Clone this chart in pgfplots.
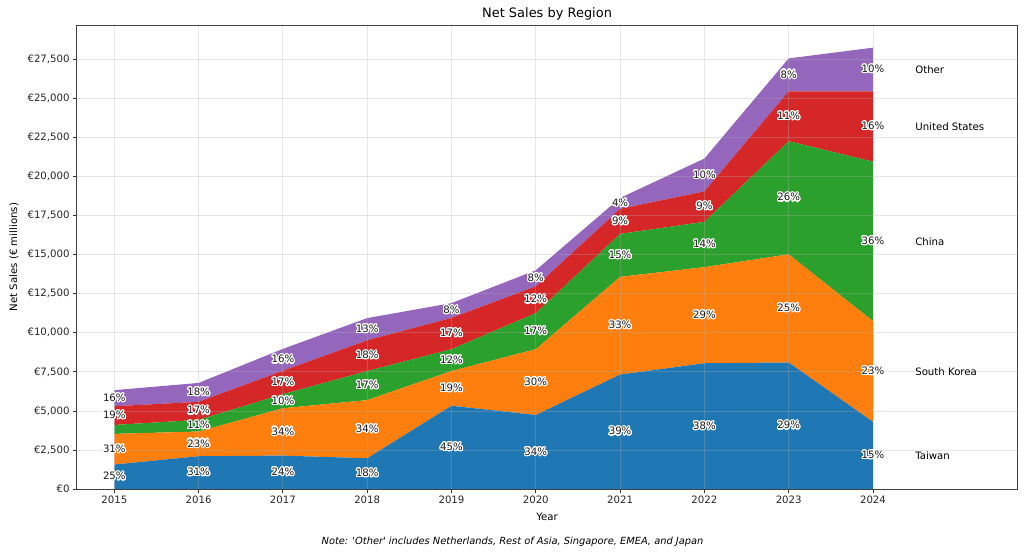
\documentclass[border=0pt]{standalone}
\usepackage{pgfplots}
\usepackage{pgfplotstable}
\pgfplotsset{compat=1.18}
\usepackage{fontspec}
\setmainfont{DejaVu Sans}[Ligatures=TeXOff]
\usepackage{contour}
\contourlength{1.1bp}
\contournumber{24}
\definecolor{tabblue}{HTML}{1F77B4}
\definecolor{taborange}{HTML}{FF7F0E}
\definecolor{tabgreen}{HTML}{2CA02C}
\definecolor{tabred}{HTML}{D62728}
\definecolor{tabpurple}{HTML}{9467BD}

\pgfplotstableread{
year taiwan korea china us other
2015 1570 1960 570 1200 1030
2016 2100 1580 750 1150 1210
2017 2140 3030 900 1500 1400
2018 1970 3720 1860 1970 1420
2019 5330 2220 1400 2000 950
2020 4740 4210 2310 1710 1030
2021 7330 6250 2750 1600 700
2022 8050 6150 2900 1950 2100
2023 8100 6920 7240 3190 2110
2024 4300 6450 10200 4500 2800
}\sales

\pgfplotstableread{
x y lab
2015 785 25
2015 2550 31
2015 4700 19
2015 5815 16
2016 1050 31
2016 2890 23
2016 4055 11
2016 5005 17
2016 6185 18
2017 1070 24
2017 3655 34
2017 5620 10
2017 6820 17
2017 8270 16
2018 985 18
2018 3830 34
2018 6620 17
2018 8535 18
2018 10230 13
2019 2665 45
2019 6440 19
2019 8250 12
2019 9950 17
2019 11425 8
2020 2370 34
2020 6845 30
2020 10105 17
2020 12115 12
2020 13485 8
2021 3665 39
2021 10455 33
2021 14955 15
2021 17130 9
2021 18280 4
2022 4025 38
2022 11125 29
2022 15650 14
2022 18075 9
2022 20100 10
2023 4050 29
2023 11560 25
2023 18640 26
2023 23855 11
2023 26505 8
2024 2150 15
2024 7525 23
2024 15850 36
2024 23200 16
2024 26850 10
}\pct

\pgfplotstableread[col sep=comma]{
x,y,lab
2024.5,2150,Taiwan
2024.5,7525,South Korea
2024.5,15850,China
2024.5,23200,United States
2024.5,26850,Other
}\names

\newcommand{\tenbp}{\fontsize{10bp}{12bp}\selectfont}

\begin{document}
\begin{tikzpicture}
\useasboundingbox (0,0) rectangle (1008bp,548.3bp);
\begin{axis}[
  at={(75.5bp,66.9bp)}, anchor=south west,
  scale only axis, width=926.3bp, height=456.8bp,
  xmin=2014.554, xmax=2025.717, ymin=0, ymax=29700,
  stack plots=y, axis on top,
  scaled x ticks=false, scaled y ticks=false,
  xtick={2015,2016,2017,2018,2019,2020,2021,2022,2023,2024},
  xticklabels={2015,2016,2017,2018,2019,2020,2021,2022,2023,2024},
  ytick={0,2500,5000,7500,10000,12500,15000,17500,20000,22500,25000,27500},
  yticklabels={€0,{€2,500},{€5,000},{€7,500},{€10,000},{€12,500},{€15,000},{€17,500},{€20,000},{€22,500},{€25,000},{€27,500}},
  tick label style={font=\tenbp, text=black!85},
  tick pos=left, tick align=outside, major tick length=3.5bp,
  tick style={black!80, line width=0.8bp},
  axis line style={black!75, line width=0.8bp},
  grid=major,
  major grid style={draw=black!31, opacity=0.3, line width=0.8bp},
]
\addplot[fill=tabblue, draw=none] table[x=year, y=taiwan] {\sales} \closedcycle;
\addplot[fill=taborange, draw=none] table[x=year, y=korea] {\sales} \closedcycle;
\addplot[fill=tabgreen, draw=none] table[x=year, y=china] {\sales} \closedcycle;
\addplot[fill=tabred, draw=none] table[x=year, y=us] {\sales} \closedcycle;
\addplot[fill=tabpurple, draw=none] table[x=year, y=other] {\sales} \closedcycle;
\end{axis}
\begin{axis}[
  at={(75.5bp,66.9bp)}, anchor=south west,
  scale only axis, width=926.3bp, height=456.8bp,
  xmin=2014.554, xmax=2025.717, ymin=0, ymax=29700,
  hide axis, clip=false,
]
\addplot[draw=none, mark=none, point meta=explicit symbolic,
  nodes near coords={\contour{white}{\pgfplotspointmeta\%}},
  every node near coord/.append style={anchor=center, font=\tenbp, text=black!90, inner sep=0pt}]
  table[x=x, y=y, meta=lab] {\pct};
\addplot[draw=none, mark=none, point meta=explicit symbolic,
  nodes near coords={\pgfplotspointmeta},
  every node near coord/.append style={anchor=west, font=\tenbp, text=black, inner sep=0pt}]
  table[x=x, y=y, meta=lab] {\names};
\end{axis}
\node[font=\fontsize{12.75bp}{15bp}\selectfont] at (538.5bp,534.5bp) {Net Sales by Region};
\node[font=\tenbp, rotate=90] at (13.8bp,295.3bp) {Net Sales (€ millions)};
\node[font=\tenbp] at (538.5bp,39.4bp) {Year};
\node[font=\fontsize{9.7bp}{11bp}\selectfont\itshape] at (504.5bp,14.8bp) {Note: 'Other' includes Netherlands, Rest of Asia, Singapore, EMEA, and Japan};
\end{tikzpicture}
\end{document}
